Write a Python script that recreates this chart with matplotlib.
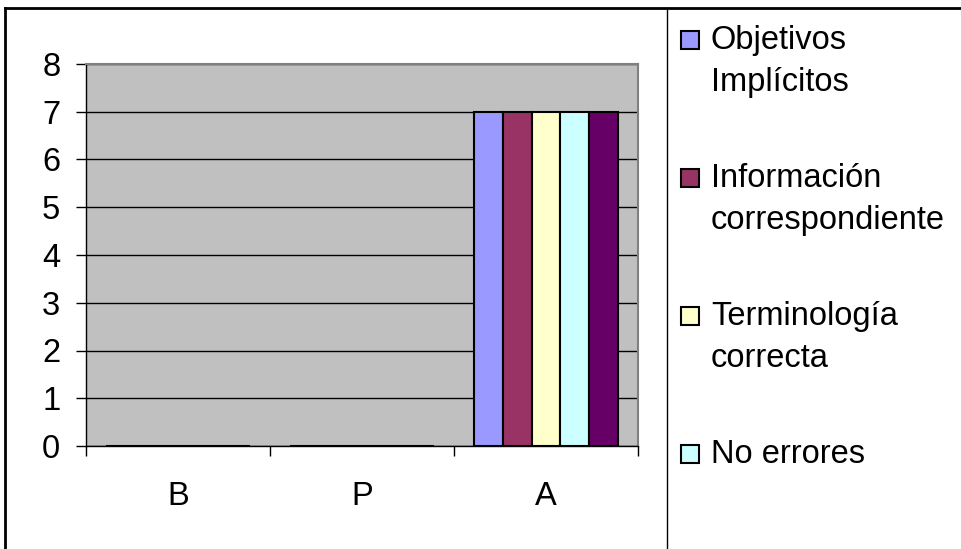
import matplotlib
matplotlib.use("Agg")
import matplotlib.pyplot as plt
from matplotlib.patches import Rectangle
from matplotlib.lines import Line2D
import numpy as np

plt.rcParams['font.family'] = ['Liberation Sans', 'DejaVu Sans']

categories = ["B", "P", "A"]
series_names = ["Objetivos\nImplícitos", "Información\ncorrespondiente",
                "Terminología\ncorrecta", "No errores", "Serie 5"]
series_values = [
    [0, 0, 7],
    [0, 0, 7],
    [0, 0, 7],
    [0, 0, 7],
    [0, 0, 7],
]
series_colors = ["#9999FF", "#993366", "#FFFFCC", "#CCFFFF", "#660066"]
y_ticks = [0, 1, 2, 3, 4, 5, 6, 7, 8]
legend_count = 4  # entries visible in the legend panel

FS = 23.5
W, H = 961, 549
fig = plt.figure(figsize=(W / 100, H / 100), dpi=100)
fig.patch.set_facecolor("white")

ax = fig.add_axes([86 / W, (H - 446) / H, (638 - 86) / W, (446 - 64) / H])
ax.set_facecolor("#C0C0C0")

x = np.arange(len(categories))
bw = 0.157
n = len(series_values)
for i, (vals, col) in enumerate(zip(series_values, series_colors)):
    ax.bar(x + (i - (n - 1) / 2) * bw, vals, width=bw, color=col,
           edgecolor="black", linewidth=1.5, zorder=3)

ax.set_xlim(-0.5, len(categories) - 0.5)
ax.set_ylim(0, 8)
ax.set_yticks(y_ticks)
ax.yaxis.grid(True, color="black", linewidth=1.0, zorder=1)
ax.set_axisbelow(True)
ax.tick_params(axis="y", length=7, width=1, labelsize=FS, pad=11.5, colors="black")

ax.set_xticks(np.arange(len(categories) + 1) - 0.5)
ax.set_xticklabels([])
ax.tick_params(axis="x", which="major", length=7, width=1)
ax.set_xticks(x, minor=True)
ax.set_xticklabels(categories, minor=True)
ax.tick_params(axis="x", which="minor", length=0, labelsize=FS, pad=25)

for s in ["left", "bottom"]:
    ax.spines[s].set_color("black")
    ax.spines[s].set_linewidth(1.0)
for s in ["top", "right"]:
    ax.spines[s].set_color("#808080")
    ax.spines[s].set_linewidth(1.5)

# outer chart frame and legend divider
def px_line(x0, y0, x1, y1, lw):
    fig.add_artist(Line2D([x0 / W, x1 / W], [1 - y0 / H, 1 - y1 / H],
                          color="black", linewidth=lw, transform=fig.transFigure))

px_line(5, 8, W, 8, 2.0)
px_line(5, 8, 5, H, 2.0)
px_line(667, 8, 667, H, 1.0)

# legend panel: one swatch per entry, label lines drawn on fixed baselines
first_baseline = 49
entry_step = 138
line_step = 42
for k, (name, col) in enumerate(zip(series_names[:legend_count],
                                    series_colors[:legend_count])):
    base = first_baseline + k * entry_step
    fig.add_artist(Rectangle((681 / W, 1 - base / H), 18 / W, 18 / H,
                             facecolor=col, edgecolor="black", linewidth=1.5,
                             transform=fig.transFigure))
    for j, line in enumerate(name.split("\n")):
        fig.text(711 / W, 1 - (base + j * line_step) / H, line, fontsize=FS,
                 va="baseline", ha="left")

fig.savefig("out.png", dpi=100)
